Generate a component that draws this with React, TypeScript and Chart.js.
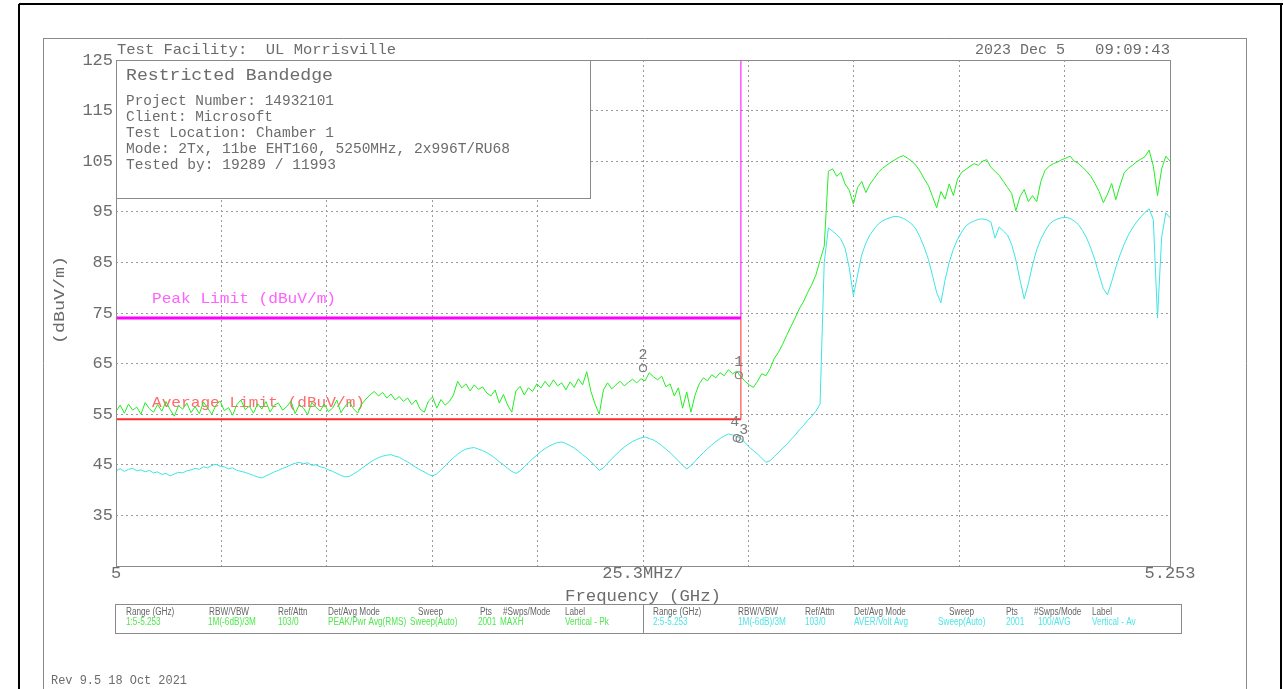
import React, { useEffect, useRef } from 'react';
import { Chart, registerables } from 'chart.js';

Chart.register(...registerables);

// ---------------- data ----------------
const F_START = 5.0; // GHz, first sample
const F_STEP = 0.001; // GHz between samples

// Trace 1 : Peak (green), dBuV/m
const PEAK_DBUV = [
  55.5, 56.8, 55.2, 57.0, 55.8, 56.4, 55.0, 57.3, 56.1, 55.4,
  56.9, 55.6, 57.5, 55.9, 54.6, 56.7, 56.0, 57.2, 55.3, 56.5,
  55.1, 57.4, 56.2, 55.0, 56.8, 57.6, 55.7, 56.3, 54.8, 56.9,
  57.8, 55.9, 56.6, 55.2, 57.1, 56.0, 57.5, 55.4, 56.8, 57.2,
  55.8, 56.5, 57.6, 55.1, 56.9, 56.2, 54.9, 57.3, 56.4, 55.6,
  57.0, 55.5, 56.2, 57.8, 55.3, 56.6, 57.4, 56.1, 55.2, 57.0,
  58.0, 58.8, 59.5, 58.6, 59.3, 58.2, 59.0, 57.8, 58.5, 57.5,
  58.2, 56.9, 57.8, 56.0, 55.4, 57.6, 58.4, 56.2, 57.9, 56.8,
  57.5, 58.8, 61.5, 60.2, 61.0, 59.6, 60.8, 59.9, 60.4, 59.2,
  58.6, 59.8, 57.2, 58.9, 56.8, 55.4, 59.6, 60.5, 58.8, 60.2,
  59.5, 61.0, 60.2, 61.5, 60.4, 61.8, 60.6, 61.2, 59.8, 61.4,
  60.3, 62.0, 60.8, 63.4, 59.5, 57.0, 55.0, 59.8, 61.2, 60.0,
  60.8, 61.5, 60.6, 61.3, 61.9, 61.2, 62.0, 61.6, 63.2, 62.4,
  61.8, 62.5, 60.4, 61.0, 58.6, 60.2, 56.2, 59.4, 55.4, 58.8,
  61.0, 62.2, 61.6, 62.8, 62.2, 63.2, 62.6, 63.8, 63.0, 63.5,
  62.4, 61.5, 60.8, 60.3, 61.5, 63.0, 62.6, 64.0, 66.0, 67.2,
  68.8, 70.6, 72.3, 74.0, 75.8, 77.2, 79.0, 80.6, 82.5, 85.4,
  88.2, 103.0, 103.5, 102.0, 102.8, 100.5, 99.3, 96.5, 99.8, 101.0,
  98.8, 100.5, 101.6, 102.8, 103.6, 104.2, 104.8, 105.3, 105.8, 106.1,
  105.6, 105.0, 104.2, 103.0, 101.5, 100.2, 98.0, 95.8, 99.0, 97.5,
  100.5, 98.2, 101.5, 102.8, 103.4, 104.0, 104.5, 104.2, 105.0, 105.3,
  103.8, 103.0, 102.2, 101.0, 99.8, 98.6, 95.2, 98.0, 99.4, 97.0,
  98.2, 97.0, 101.0, 103.2, 104.0, 104.5, 104.8, 105.3, 105.6, 106.0,
  105.0, 104.6, 103.8, 103.0, 102.0, 100.6, 99.0, 96.8, 98.5, 100.6,
  97.4, 100.2, 102.7, 103.6, 104.2, 104.9, 105.4, 105.9, 107.2, 104.0,
  98.2, 103.5, 106.0, 105.0,
];

// Trace 2 : Average (cyan), dBuV/m
const AVG_DBUV = [
  43.8, 44.2, 43.7, 44.1, 44.3, 43.8, 44.0, 43.6, 43.9, 43.4,
  43.6, 43.1, 43.3, 42.8, 43.2, 43.5, 43.4, 43.8, 44.0, 44.3,
  44.1, 44.6, 44.4, 44.9, 45.1, 44.7, 44.6, 44.2, 44.4, 43.9,
  43.7, 43.5, 43.2, 42.9, 42.6, 42.4, 42.8, 43.2, 43.6, 43.9,
  44.3, 44.6, 45.0, 45.3, 45.5, 45.2, 45.4, 44.9, 45.0, 44.6,
  44.4, 44.0, 43.7, 43.3, 42.9, 42.6, 42.7, 43.2, 43.7, 44.3,
  44.9, 45.5, 46.0, 46.4, 46.7, 46.9, 47.0, 46.7, 46.5, 46.0,
  45.6, 45.0, 44.5, 44.0, 43.6, 43.1, 42.8, 43.2, 44.0, 44.8,
  45.6, 46.4, 47.1, 47.7, 48.1, 48.3, 48.4, 48.1, 47.8, 47.4,
  46.9, 46.3, 45.6, 45.0, 44.3, 43.7, 43.3, 43.8, 44.6, 45.4,
  46.2, 46.9, 47.6, 48.2, 48.7, 49.1, 49.4, 49.5, 49.2, 48.8,
  48.3, 47.7, 47.0, 46.4, 45.6, 44.8, 43.9, 44.4, 45.3, 46.2,
  47.0, 47.8, 48.5, 49.1, 49.6, 50.0, 50.3, 50.5, 50.2, 49.9,
  49.4, 48.8, 48.1, 47.4, 46.6, 45.8, 44.9, 44.2, 44.8, 45.7,
  46.6, 47.4, 48.2, 48.9, 49.6, 50.2, 50.7, 51.1, 50.9, 50.6,
  50.2, 49.4, 48.5, 47.8, 47.1, 46.3, 45.5, 45.8, 46.6, 47.4,
  48.3, 49.0, 50.0, 50.8, 51.9, 52.7, 53.8, 54.6, 55.6, 57.0,
  85.0, 91.8, 91.2, 90.5, 89.6, 87.8, 84.0, 78.4, 82.5, 86.5,
  88.8, 90.5, 91.6, 92.6, 93.2, 93.6, 93.9, 94.1, 94.0, 93.7,
  93.2, 92.6, 91.6, 90.0, 88.0, 85.6, 82.4, 79.0, 77.0, 81.5,
  85.0, 87.6, 89.6, 91.0, 92.2, 92.8, 93.2, 93.5, 93.6, 93.4,
  93.0, 89.8, 92.0, 91.2, 90.4, 88.5, 85.5, 81.5, 77.8, 80.8,
  84.5, 87.5, 89.6, 91.2, 92.5, 93.2, 93.6, 93.8, 93.9, 93.7,
  93.2, 92.5, 91.3, 89.8, 87.8, 85.4, 82.5, 79.8, 78.6, 81.2,
  84.0, 86.5, 88.6, 90.4, 91.8, 93.0, 94.0, 94.9, 95.6, 93.4,
  74.0, 90.0, 94.8, 93.8,
];

// Limit lines
const PEAK_LIMIT_FREQ = [5.0, 5.15, 5.15];
const PEAK_LIMIT_DBUV = [74, 74, 125];
const AVG_LIMIT_FREQ = [5.0, 5.15, 5.15];
const AVG_LIMIT_DBUV = [54, 54, 74];

// Markers
const MARKER_LABELS = ['1', '2', '3', '4'];
const MARKER_FREQ = [5.1495, 5.1265, 5.1497, 5.149];
const MARKER_DBUV = [62.7, 64.1, 50.1, 50.3];

// Axes
const X_MIN = 5.0;
const X_MAX = 5.253;
const Y_MIN = 25;
const Y_MAX = 125;
const Y_TICKS = [25, 35, 45, 55, 65, 75, 85, 95, 105, 115, 125];
const X_TICKS = [5.0, 5.0253, 5.0506, 5.0759, 5.1012, 5.1265, 5.1518, 5.1771, 5.2024, 5.2277, 5.253];
const X_TICK_LABELS = ['5', '', '', '', '', '25.3MHz/', '', '', '', '', '5.253'];

// Texts
const HEADER_LEFT = 'Test Facility:  UL Morrisville';
const HEADER_DATE = '2023 Dec 5';
const HEADER_TIME = '09:09:43';
const INFO_TITLE = 'Restricted Bandedge';
const INFO_LINES = [
  'Project Number: 14932101',
  'Client: Microsoft',
  'Test Location: Chamber 1',
  'Mode: 2Tx, 11be EHT160, 5250MHz, 2x996T/RU68',
  'Tested by: 19289 / 11993',
];
const TABLE_HEADERS = ['Range (GHz)', 'RBW/VBW', 'Ref/Attn', 'Det/Avg Mode', 'Sweep', 'Pts', '#Swps/Mode', 'Label'];
const TABLE_TRACE1 = ['1:5-5.253', '1M(-6dB)/3M', '103/0', 'PEAK/Pwr Avg(RMS)', 'Sweep(Auto)', '2001', 'MAXH', 'Vertical - Pk'];
const TABLE_TRACE2 = ['2:5-5.253', '1M(-6dB)/3M', '103/0', 'AVER/Volt Avg', 'Sweep(Auto)', '2001', '100/AVG', 'Vertical - Av'];

// ---------------- styles ----------------
const MONO = '"Liberation Mono", "DejaVu Sans Mono", monospace';
const SANS = '"Liberation Sans", Arial, sans-serif';
const TXT = '#6c6c6c';
const GREEN = '#22ee22';
const CYAN = '#3ee4e4';

const LEFT_HDR_X = [126, 209, 278, 328, 418, 480, 503, 565];
const LEFT_VAL_X = [126, 208, 278, 328, 410, 478, 500, 565];
const RIGHT_HDR_X = [653, 738, 805, 854, 949, 1006, 1034, 1092];
const RIGHT_VAL_X = [653, 738, 805, 854, 938, 1006, 1038, 1092];

function drawText(
  ctx: CanvasRenderingContext2D,
  s: string,
  x: number,
  y: number,
  size: number,
  color: string,
  width?: number,
  align: 'left' | 'center' | 'right' = 'left',
  font: string = MONO,
  scaleX?: number
) {
  ctx.save();
  ctx.font = `${size}px ${font}`;
  ctx.fillStyle = color;
  ctx.textBaseline = 'middle';
  ctx.textAlign = 'left';
  const m = ctx.measureText(s).width;
  const sx = width ? width / m : scaleX || 1;
  let x0 = x;
  if (align === 'center') x0 = x - (m * sx) / 2;
  else if (align === 'right') x0 = x - m * sx;
  ctx.translate(x0, y);
  ctx.scale(sx, 1);
  ctx.fillText(s, 0, 0);
  ctx.restore();
}

function line(ctx: CanvasRenderingContext2D, x1: number, y1: number, x2: number, y2: number, color: string, w: number) {
  ctx.save();
  ctx.strokeStyle = color;
  ctx.lineWidth = w;
  ctx.beginPath();
  ctx.moveTo(x1, y1);
  ctx.lineTo(x2, y2);
  ctx.stroke();
  ctx.restore();
}

const decorPlugin = {
  id: 'decor',
  beforeDatasetsDraw(chart: any) {
    const ctx: CanvasRenderingContext2D = chart.ctx;
    // limit labels (under traces)
    drawText(ctx, 'Peak Limit (dBuV/m)', 152, 299, 15, '#ff60ff', 184);
    drawText(ctx, 'Average Limit (dBuV/m)', 152, 403, 15, '#ff6a6a', 213);
    // info box
    const a = chart.chartArea;
    ctx.save();
    ctx.fillStyle = '#ffffff';
    ctx.fillRect(a.left, a.top, 474, 138);
    ctx.strokeStyle = '#8a8a8a';
    ctx.lineWidth = 1;
    ctx.strokeRect(a.left + 0.5, a.top + 0.5, 474, 138);
    ctx.restore();
    drawText(ctx, INFO_TITLE, 126, 76, 16, TXT, 207);
    const widths = [208, 147, 208, 384, 210];
    INFO_LINES.forEach((s, i) => drawText(ctx, s, 126, 101 + i * 16, 14, TXT, widths[i]));
  },
  afterDatasetsDraw(chart: any) {
    const ctx: CanvasRenderingContext2D = chart.ctx;
    const a = chart.chartArea;
    ctx.save();
    ctx.strokeStyle = '#8a8a8a';
    ctx.lineWidth = 1;
    ctx.strokeRect(a.left + 0.5, a.top + 0.5, a.right - a.left, a.bottom - a.top);
    ctx.restore();
    // marker labels
    const xs = chart.scales.x;
    const ys = chart.scales.y;
    const offs = [
      [0, -13],
      [0, -13],
      [4, -9],
      [-2, -16],
    ];
    MARKER_LABELS.forEach((lab, i) => {
      const px = xs.getPixelForValue(MARKER_FREQ[i]);
      const py = ys.getPixelForValue(MARKER_DBUV[i]);
      drawText(ctx, lab, px + offs[i][0], py + offs[i][1], 15, '#7a7a7a', undefined, 'center');
    });
  },
  afterDraw(chart: any) {
    const ctx: CanvasRenderingContext2D = chart.ctx;
    // outer black frame
    line(ctx, 19, 4, 1283, 4, '#000', 2);
    line(ctx, 19, 4, 19, 689, '#000', 2);
    line(ctx, 1281, 4, 1281, 689, '#000', 2);
    // inner grey frame
    line(ctx, 43, 38.5, 1246, 38.5, '#8a8a8a', 1);
    line(ctx, 43.5, 38, 43.5, 689, '#8a8a8a', 1);
    line(ctx, 1246.5, 38, 1246.5, 689, '#8a8a8a', 1);
    // header
    drawText(ctx, HEADER_LEFT, 117, 50, 15, TXT, 279);
    drawText(ctx, HEADER_DATE, 975, 50, 15, TXT, 90);
    drawText(ctx, HEADER_TIME, 1095, 50, 15, TXT, 75);
    // axis titles
    drawText(ctx, 'Frequency (GHz)', 643, 596, 17, TXT, 156, 'center');
    ctx.save();
    ctx.translate(60, 300);
    ctx.rotate(-Math.PI / 2);
    drawText(ctx, '(dBuV/m)', 0, 0, 14, TXT, 88, 'center');
    ctx.restore();
    // table
    ctx.save();
    ctx.strokeStyle = '#8a8a8a';
    ctx.lineWidth = 1;
    ctx.strokeRect(115.5, 604.5, 1066, 29);
    ctx.restore();
    line(ctx, 643.5, 604, 643.5, 634, '#8a8a8a', 1);
    TABLE_HEADERS.forEach((s, i) => {
      drawText(ctx, s, LEFT_HDR_X[i], 612, 10, '#666', undefined, 'left', SANS, 0.82);
      drawText(ctx, s, RIGHT_HDR_X[i], 612, 10, '#666', undefined, 'left', SANS, 0.82);
    });
    TABLE_TRACE1.forEach((s, i) => drawText(ctx, s, LEFT_VAL_X[i], 622, 10, '#4ee84e', undefined, 'left', SANS, 0.82));
    TABLE_TRACE2.forEach((s, i) => drawText(ctx, s, RIGHT_VAL_X[i], 622, 10, '#4ee6e6', undefined, 'left', SANS, 0.82));
    // revision
    drawText(ctx, 'Rev 9.5 18 Oct 2021', 51, 681, 13, TXT, 136);
  },
};

// thin vertical edge, thick horizontal run for limit lines
const limitSegWidth = (thick: number) => (c: any) => (c.p0.parsed.x === c.p1.parsed.x ? 1 : thick);

export default function App() {
  const ref = useRef<HTMLCanvasElement | null>(null);

  useEffect(() => {
    if (!ref.current) return;
    const peakData = PEAK_DBUV.map((v, i) => ({ x: F_START + i * F_STEP, y: v }));
    const avgData = AVG_DBUV.map((v, i) => ({ x: F_START + i * F_STEP, y: v }));
    const peakLimit = PEAK_LIMIT_FREQ.map((f, i) => ({ x: f, y: PEAK_LIMIT_DBUV[i] }));
    const avgLimit = AVG_LIMIT_FREQ.map((f, i) => ({ x: f, y: AVG_LIMIT_DBUV[i] }));
    const markers = MARKER_FREQ.map((f, i) => ({ x: f, y: MARKER_DBUV[i] }));

    const chart = new Chart(ref.current, {
      type: 'line',
      data: {
        datasets: [
          {
            label: 'markers',
            data: markers,
            showLine: false,
            pointRadius: 3.5,
            pointStyle: 'circle',
            pointBorderColor: '#808080',
            pointBackgroundColor: 'rgba(0,0,0,0)',
            pointBorderWidth: 1.2,
          },
          {
            label: 'Peak Limit',
            data: peakLimit,
            borderColor: '#ff00ff',
            borderWidth: 3,
            pointRadius: 0,
            tension: 0,
            segment: { borderWidth: limitSegWidth(3) },
          },
          {
            label: 'Average Limit',
            data: avgLimit,
            borderColor: '#ff2a2a',
            borderWidth: 2,
            pointRadius: 0,
            tension: 0,
            segment: { borderWidth: limitSegWidth(2) },
          },
          {
            label: 'Peak',
            data: peakData,
            borderColor: GREEN,
            borderWidth: 1,
            pointRadius: 0,
            tension: 0,
          },
          {
            label: 'Average',
            data: avgData,
            borderColor: CYAN,
            borderWidth: 1,
            pointRadius: 0,
            tension: 0,
          },
        ],
      },
      options: {
        animation: false,
        responsive: false,
        maintainAspectRatio: false,
        events: [],
        layout: { padding: { left: 0, top: 60, right: 113, bottom: 93 } },
        plugins: {
          legend: { display: false },
          tooltip: { enabled: false },
          title: { display: false },
        },
        scales: {
          x: {
            type: 'linear',
            min: X_MIN,
            max: X_MAX,
            afterBuildTicks: (scale: any) => {
              scale.ticks = X_TICKS.map((v) => ({ value: v }));
            },
            afterFit: (scale: any) => {
              scale.height = 30;
            },
            ticks: {
              autoSkip: false,
              maxRotation: 0,
              minRotation: 0,
              padding: -1,
              color: TXT,
              font: { family: MONO, size: 17, lineHeight: 1 },
              callback: (_v: any, i: number) => X_TICK_LABELS[i],
            },
            grid: { color: '#9a9a9a', lineWidth: 1, drawTicks: false },
            border: { display: false, dash: [2, 3] },
          },
          y: {
            type: 'linear',
            min: Y_MIN,
            max: Y_MAX,
            afterBuildTicks: (scale: any) => {
              scale.ticks = Y_TICKS.map((v) => ({ value: v }));
            },
            afterFit: (scale: any) => {
              scale.width = 116;
            },
            ticks: {
              padding: 3,
              color: TXT,
              font: { family: MONO, size: 17 },
              callback: (v: any) => (v === Y_MIN ? '' : String(v)),
            },
            grid: { color: '#9a9a9a', lineWidth: 1, drawTicks: false },
            border: { display: false, dash: [2, 3] },
          },
        },
      },
      plugins: [decorPlugin],
    });
    return () => chart.destroy();
  }, []);

  return (
    <div style={{ position: 'absolute', left: 0, top: 0, width: 1283, height: 689, background: '#fff' }}>
      <canvas ref={ref} width={1283} height={689} style={{ display: 'block' }} />
    </div>
  );
}
